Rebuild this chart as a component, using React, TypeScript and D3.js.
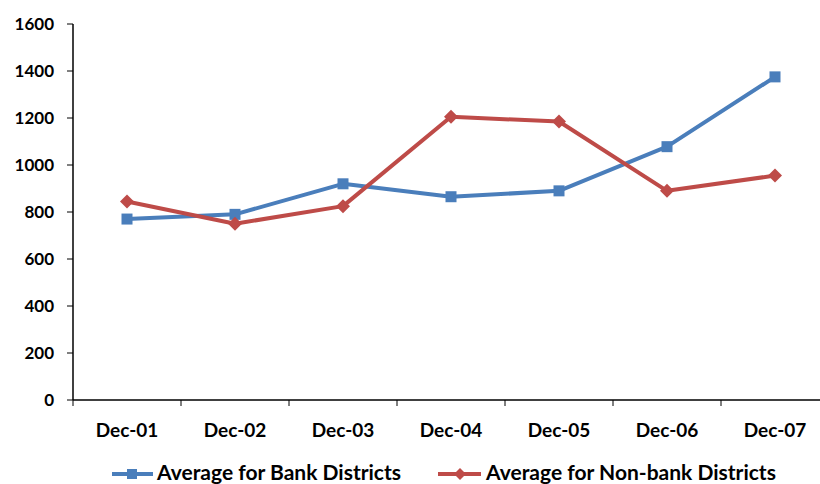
import React from "react";
import * as d3 from "d3";

const categories = ["Dec-01", "Dec-02", "Dec-03", "Dec-04", "Dec-05", "Dec-06", "Dec-07"];
const bankValues = [770, 790, 920, 865, 890, 1078, 1375];
const nonBankValues = [845, 750, 825, 1205, 1185, 890, 955];
const yTicks = [0, 200, 400, 600, 800, 1000, 1200, 1400, 1600];
const seriesNames = ["Average for Bank Districts", "Average for Non-bank Districts"];

const BLUE = "#4a7ebb";
const RED = "#be4b48";
const FONT = "Lato, 'Open Sans', sans-serif";

export default function App() {
  const W = 820, H = 484;
  const left = 73, right = 829, top = 24, bottom = 400;
  const x = d3.scaleBand<string>().domain(categories).range([left, right]);
  const y = d3.scaleLinear().domain([0, 1600]).range([bottom, top]);
  const cx = (c: string) => (x(c) as number) + x.bandwidth() / 2;
  const line = d3.line<number>().x((_, i) => cx(categories[i])).y((v) => y(v));
  const tickEdges = categories.map((c) => x(c) as number).concat([right]);

  const square = (px: number, py: number, key: string, s = 11) => (
    <rect key={key} x={px - s / 2} y={py - s / 2} width={s} height={s} fill={BLUE} />
  );
  const diamond = (px: number, py: number, key: string, s = 7) => (
    <path key={key} d={`M${px},${py - s}L${px + s},${py}L${px},${py + s}L${px - s},${py}Z`} fill={RED} />
  );

  return (
    <svg width={W} height={H} style={{ position: "absolute", left: 0, top: 0 }}>
      <rect width={W} height={H} fill="white" />
      {/* y axis */}
      <line x1={left} x2={left} y1={top} y2={bottom} stroke="black" strokeWidth={1.5} />
      {yTicks.map((t) => (
        <g key={t}>
          <line x1={left - 6} x2={left} y1={y(t)} y2={y(t)} stroke="black" strokeWidth={1} />
          <text x={54} y={y(t)} dy="0.35em" textAnchor="end" fontFamily={FONT} fontWeight="bold" fontSize={17} fill="black">
            {t}
          </text>
        </g>
      ))}
      {/* x axis */}
      <line x1={left} x2={right} y1={bottom} y2={bottom} stroke="black" strokeWidth={1.5} />
      {tickEdges.map((tx, i) => (
        <line key={i} x1={tx} x2={tx} y1={bottom} y2={bottom + 6} stroke="black" strokeWidth={1} />
      ))}
      {categories.map((c) => (
        <text key={c} x={cx(c)} y={437} textAnchor="middle" fontFamily={FONT} fontWeight="bold" fontSize={19} fill="black">
          {c}
        </text>
      ))}
      {/* series */}
      <path d={line(bankValues) || ""} fill="none" stroke={BLUE} strokeWidth={4} strokeLinejoin="round" />
      <path d={line(nonBankValues) || ""} fill="none" stroke={RED} strokeWidth={4} strokeLinejoin="round" />
      {bankValues.map((v, i) => square(cx(categories[i]), y(v), "b" + i))}
      {nonBankValues.map((v, i) => diamond(cx(categories[i]), y(v), "n" + i))}
      {/* legend */}
      <line x1={112} x2={153} y1={474} y2={474} stroke={BLUE} strokeWidth={4} />
      {square(132, 474, "lb", 10)}
      <text x={157} y={480} fontFamily={FONT} fontWeight="bold" fontSize={21} fill="black">
        {seriesNames[0]}
      </text>
      <line x1={438} x2={481} y1={474} y2={474} stroke={RED} strokeWidth={4} />
      {diamond(460, 474, "ln", 6)}
      <text x={486} y={480} fontFamily={FONT} fontWeight="bold" fontSize={21} fill="black">
        {seriesNames[1]}
      </text>
    </svg>
  );
}
